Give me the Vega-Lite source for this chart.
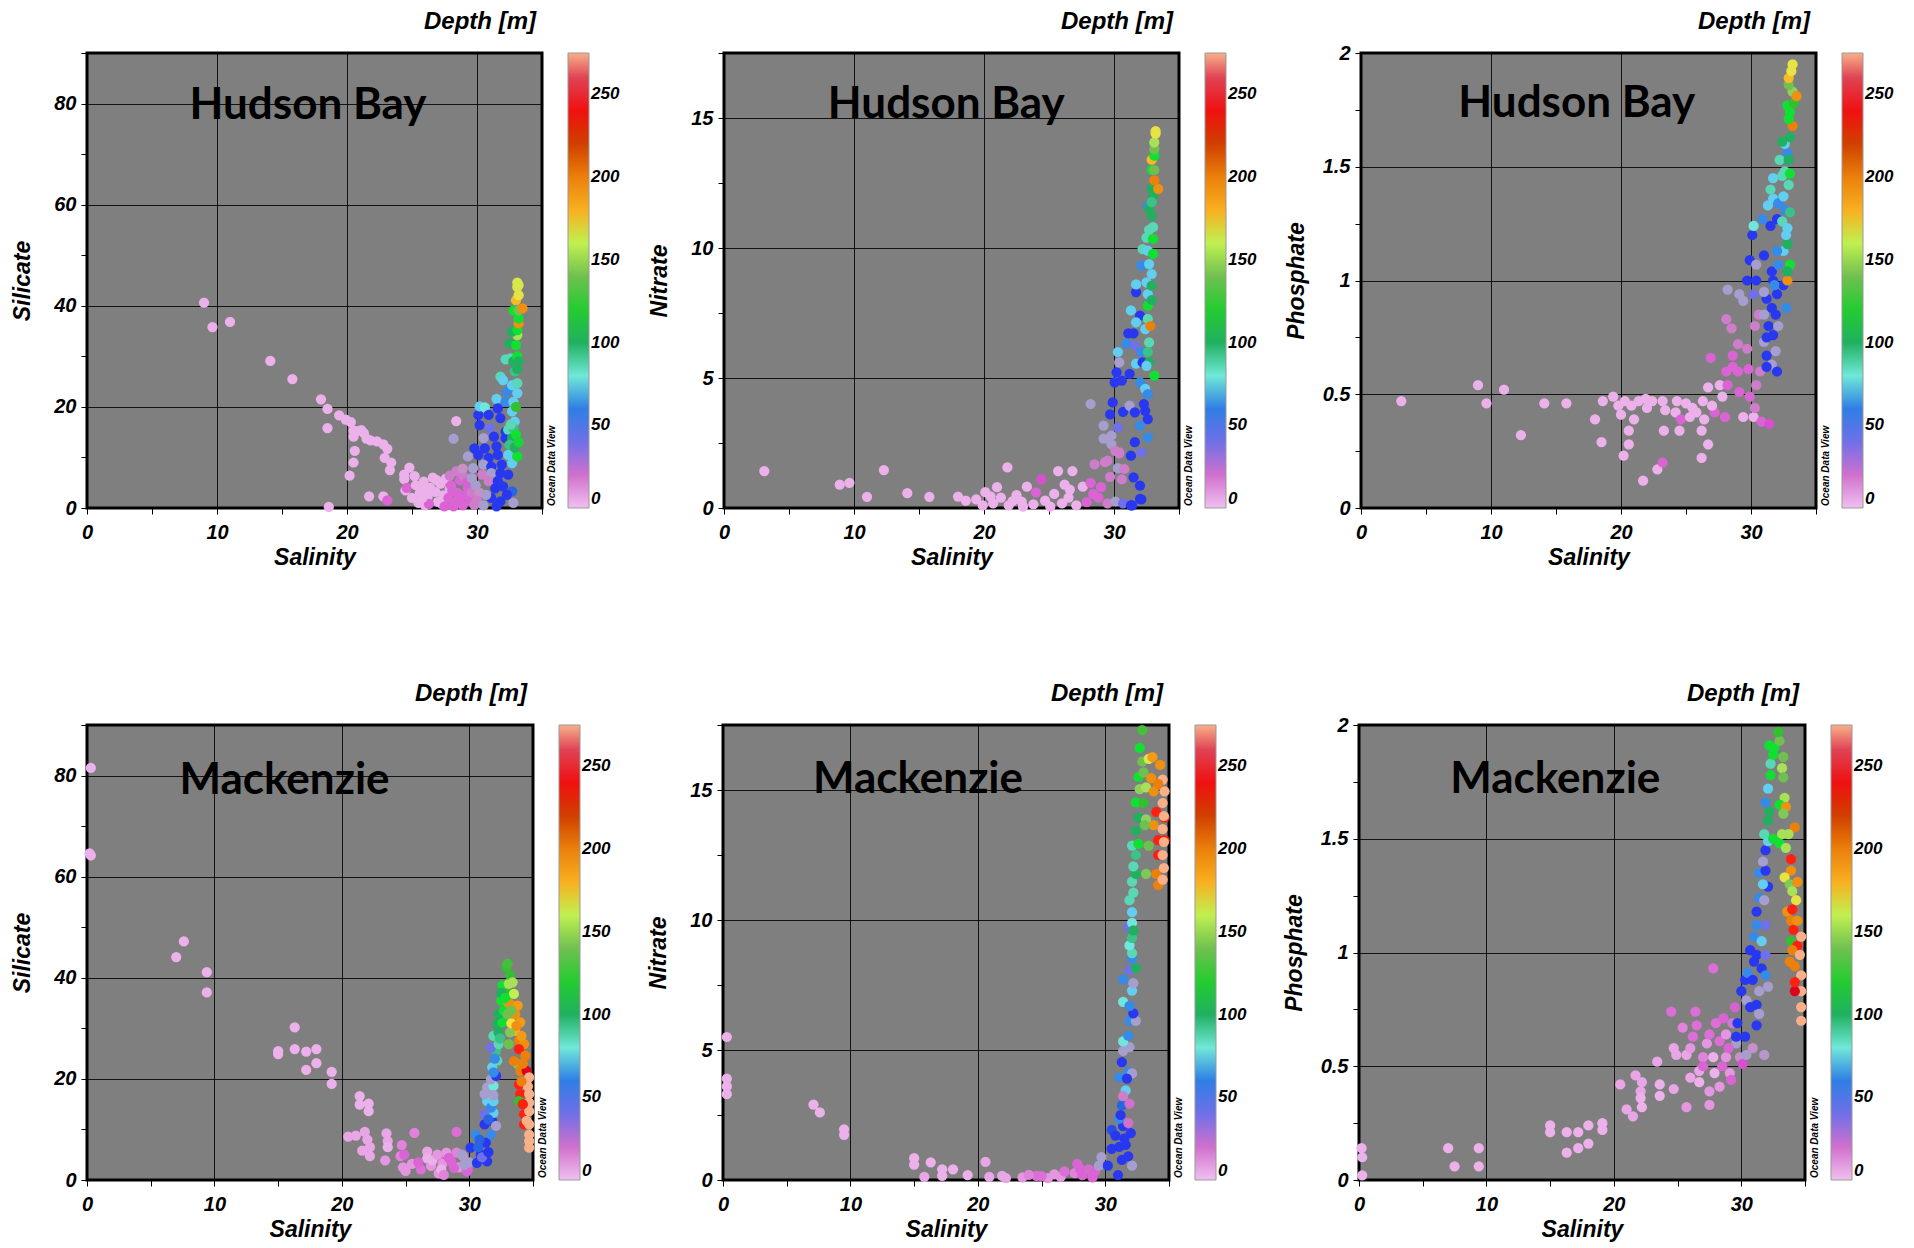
{
"$schema": "https://vega.github.io/schema/vega-lite/v6.json",
"background": "white",
"padding": {"left": 9, "top": 8, "right": 0, "bottom": 0},
"config": {
  "view": {"fill": "#7f7f7f", "stroke": "#000", "strokeWidth": 3},
  "axis": {"labelFont": "Liberation Sans", "labelFontSize": 20, "labelFontWeight": "bold", "labelFontStyle": "italic", "labelColor": "#000",
           "titleFont": "Liberation Sans", "titleFontSize": 23, "titleFontWeight": "bold", "titleFontStyle": "italic", "titleColor": "#000",
           "domain": false, "tickColor": "#000", "tickSize": 6, "gridColor": "#000", "gridWidth": 1, "labelFlush": false, "labelOverlap": false, "format": "~f"},
  "axisX": {"labelPadding": 8, "titlePadding": 4},
  "axisY": {"labelPadding": 5, "titlePadding": 14, "minExtent": 39, "maxExtent": 39},
  "legend": {"orient": "right", "offset": 26, "gradientLength": 455, "gradientThickness": 21, "labelFont": "Liberation Sans", "labelFontSize": 17, "labelFontWeight": "bold", "labelFontStyle": "italic", "labelColor": "#000", "labelOffset": 6, "gradientStrokeColor": "#999", "gradientStrokeWidth": 1, "labelOverlap": false},
  "title": {"font": "Liberation Sans", "fontSize": 24, "fontWeight": "bold", "fontStyle": "italic", "color": "#000", "anchor": "end", "frame": "group", "offset": 9, "baseline": "bottom", "dx": -6}
},
"datasets": {
"hs": [
{"s":9.0,"v":40.6,"d":3},{"s":9.65,"v":35.8,"d":3},{"s":11.0,"v":36.8,"d":3},{"s":14.1,"v":29.1,"d":3},{"s":15.8,"v":25.5,"d":3},{"s":18.0,"v":21.5,"d":3},{"s":18.5,"v":19.6,"d":3},{"s":18.5,"v":15.8,"d":3},{"s":19.4,"v":18.3,"d":3},{"s":19.9,"v":17.5,"d":3},{"s":20.3,"v":17,"d":3},{"s":20.5,"v":15.3,"d":3},{"s":20.75,"v":15.2,"d":3},{"s":21.1,"v":15.4,"d":3},{"s":20.5,"v":14.1,"d":3},{"s":21.3,"v":14.8,"d":3},{"s":21.5,"v":13.7,"d":3},{"s":21.8,"v":13.4,"d":3},{"s":22.3,"v":13.2,"d":3},{"s":22.8,"v":12.6,"d":3},{"s":23.1,"v":11.7,"d":3},{"s":22.9,"v":9.9,"d":3},{"s":23.4,"v":9.0,"d":3},{"s":23.3,"v":7.5,"d":3},{"s":20.6,"v":11.3,"d":3},{"s":20.5,"v":9.0,"d":3},{"s":20.2,"v":6.4,"d":3},{"s":21.7,"v":2.3,"d":3},{"s":22.8,"v":2.3,"d":3},{"s":23.1,"v":1.5,"d":13},{"s":18.6,"v":0.2,"d":3},{"s":24.4,"v":6.6,"d":3},{"s":24.8,"v":8.0,"d":3},{"s":24.4,"v":5.7,"d":3},{"s":24.5,"v":3.5,"d":3},{"s":25.0,"v":2.0,"d":3},{"s":24.6,"v":4.0,"d":13},
{"s":25.3,"v":4.5,"d":3},{"s":25.6,"v":3.0,"d":3},{"s":25.9,"v":5.2,"d":3},{"s":26.2,"v":2.2,"d":3},{"s":26.4,"v":4.0,"d":3},{"s":26.6,"v":6.0,"d":3},{"s":26.8,"v":3.2,"d":3},{"s":27.0,"v":1.2,"d":3},{"s":27.2,"v":4.8,"d":3},{"s":27.4,"v":2.5,"d":3},{"s":25.5,"v":1.0,"d":3},{"s":26.0,"v":0.5,"d":3},{"s":27.6,"v":5.8,"d":3},{"s":26.3,"v":0.8,"d":13},{"s":25.2,"v":6.3,"d":3},{"s":27.9,"v":3.8,"d":3},{"s":26.0,"v":3.8,"d":3},{"s":26.9,"v":5.5,"d":3},{"s":25.8,"v":2.0,"d":3},{"s":27.3,"v":0.8,"d":3},
{"s":27.8,"v":2.0,"d":13},{"s":28.0,"v":4.5,"d":13},{"s":28.3,"v":1.0,"d":13},{"s":28.5,"v":3.0,"d":13},{"s":28.7,"v":5.5,"d":13},{"s":28.9,"v":0.5,"d":13},{"s":29.1,"v":2.5,"d":13},{"s":29.3,"v":4.0,"d":13},{"s":29.5,"v":1.3,"d":13},{"s":27.9,"v":6.4,"d":22},{"s":28.4,"v":7.3,"d":22},{"s":29.0,"v":6.1,"d":22},{"s":29.6,"v":3.1,"d":22},{"s":28.2,"v":0.3,"d":13},{"s":29.8,"v":0.6,"d":22},{"s":27.5,"v":0.3,"d":13},{"s":28.1,"v":3.4,"d":13},{"s":28.6,"v":1.9,"d":13},{"s":29.2,"v":5.0,"d":18},{"s":28.9,"v":7.8,"d":25},{"s":29.9,"v":4.5,"d":31},{"s":30.2,"v":3.0,"d":25},
{"s":28.4,"v":17.2,"d":3},{"s":28.2,"v":13.7,"d":31},
{"s":30.1,"v":18.4,"d":48},{"s":30.2,"v":16.4,"d":48},{"s":31.0,"v":15.8,"d":40},{"s":30.5,"v":13.8,"d":31},{"s":31.3,"v":14.1,"d":48},{"s":32.2,"v":13.8,"d":48},{"s":29.8,"v":11.8,"d":48},{"s":30.6,"v":11.8,"d":48},{"s":31.5,"v":12.2,"d":48},{"s":29.3,"v":10.2,"d":31},{"s":30.1,"v":10.5,"d":48},{"s":30.9,"v":9.9,"d":48},{"s":31.6,"v":10.5,"d":48},{"s":32.4,"v":10.5,"d":70},{"s":29.7,"v":7.9,"d":31},{"s":30.5,"v":8.6,"d":31},{"s":31.1,"v":8.2,"d":48},{"s":31.9,"v":8.6,"d":48},{"s":32.7,"v":8.9,"d":70},{"s":30.4,"v":6.6,"d":22},{"s":31.1,"v":6.9,"d":31},{"s":31.8,"v":6.9,"d":48},{"s":32.4,"v":6.6,"d":48},{"s":29.6,"v":5.9,"d":31},{"s":30.9,"v":5.3,"d":22},{"s":31.4,"v":3.9,"d":48},{"s":32.0,"v":4.3,"d":48},{"s":32.7,"v":3.3,"d":56},{"s":31.1,"v":2.0,"d":48},{"s":31.8,"v":1.3,"d":48},{"s":32.3,"v":2.6,"d":48},{"s":30.7,"v":2.6,"d":31},{"s":32.8,"v":1.0,"d":31},{"s":31.6,"v":5.3,"d":48},{"s":30.0,"v":1.5,"d":22},{"s":30.5,"v":0.5,"d":31},{"s":31.5,"v":0.3,"d":48},
{"s":30.2,"v":20.1,"d":70},{"s":30.6,"v":19.9,"d":78},{"s":31.5,"v":21.6,"d":70},{"s":31.6,"v":19.7,"d":48},{"s":32.2,"v":21,"d":62},{"s":32.8,"v":21,"d":70},{"s":32.7,"v":19.1,"d":70},{"s":30.9,"v":18.4,"d":48},{"s":31.8,"v":17.8,"d":48},{"s":32.9,"v":17.1,"d":70},{"s":32.2,"v":15.1,"d":48},{"s":32.4,"v":15.5,"d":85},{"s":32.8,"v":15.8,"d":92},{"s":32.7,"v":13.8,"d":100},{"s":33.1,"v":10.2,"d":112},{"s":32.5,"v":12.5,"d":92},{"s":31.8,"v":26,"d":85},{"s":32.0,"v":25.3,"d":70},{"s":32.3,"v":23,"d":62},{"s":32.7,"v":24.3,"d":70},{"s":33.1,"v":24.7,"d":85},{"s":32.9,"v":27,"d":92},{"s":33.1,"v":22.7,"d":70},{"s":32.2,"v":29.4,"d":85},{"s":32.6,"v":29.6,"d":85},{"s":32.8,"v":29,"d":100},{"s":33.1,"v":30,"d":112},{"s":33.2,"v":29,"d":100},{"s":32.5,"v":32.6,"d":100},{"s":33.0,"v":32.2,"d":112},{"s":33.1,"v":34.2,"d":155},{"s":32.7,"v":34.9,"d":100},{"s":33.1,"v":35.2,"d":112},{"s":33.2,"v":36.5,"d":195},{"s":33.2,"v":37.5,"d":112},{"s":32.8,"v":39.1,"d":112},{"s":33.2,"v":39.1,"d":140},{"s":33.5,"v":39.5,"d":195},{"s":33.0,"v":41.1,"d":178},{"s":33.2,"v":42.1,"d":168},{"s":33.2,"v":44.1,"d":165},{"s":33.1,"v":44.6,"d":165},{"s":33.1,"v":43.7,"d":165},{"s":33.1,"v":27.5,"d":100},{"s":33.0,"v":20.0,"d":125},{"s":32.9,"v":12.0,"d":100},{"s":33.0,"v":14.5,"d":112},{"s":32.6,"v":16.5,"d":85},{"s":33.2,"v":13.0,"d":110}
],
"hn": [
{"s":3.1,"v":1.42,"d":3},{"s":8.9,"v":0.9,"d":3},{"s":9.65,"v":0.97,"d":3},{"s":11.0,"v":0.43,"d":3},{"s":12.3,"v":1.46,"d":3},{"s":14.1,"v":0.57,"d":3},{"s":15.8,"v":0.43,"d":3},{"s":18.0,"v":0.44,"d":3},{"s":18.6,"v":0.28,"d":3},{"s":19.4,"v":0.33,"d":3},{"s":20.1,"v":0.61,"d":3},{"s":21.0,"v":0.8,"d":3},{"s":21.8,"v":1.56,"d":3},{"s":21.3,"v":0.4,"d":3},{"s":22.2,"v":0.26,"d":3},{"s":23.3,"v":0.82,"d":3},{"s":24.4,"v":1.1,"d":15},{"s":25.7,"v":1.42,"d":3},{"s":26.8,"v":1.42,"d":3},{"s":26.6,"v":0.71,"d":3},{"s":27.6,"v":0.82,"d":3},{"s":28.2,"v":4.0,"d":31},{"s":28.5,"v":1.68,"d":22},{"s":28.2,"v":0.97,"d":13},{"s":28.4,"v":0.54,"d":13},{"s":19.9,"v":0.1,"d":3},{"s":20.7,"v":0.18,"d":3},{"s":21.9,"v":0.1,"d":3},{"s":22.9,"v":0.25,"d":3},{"s":23.8,"v":0.14,"d":3},{"s":24.7,"v":0.28,"d":3},{"s":25.4,"v":0.54,"d":3},{"s":26.0,"v":0.18,"d":3},{"s":26.5,"v":0.4,"d":3},{"s":27.1,"v":0.1,"d":3},{"s":27.9,"v":0.23,"d":13},{"s":28.8,"v":0.4,"d":13},{"s":29.5,"v":0.18,"d":22},{"s":30.1,"v":0.25,"d":31},{"s":30.7,"v":0.18,"d":40},{"s":31.4,"v":0.1,"d":48},{"s":32.1,"v":0.33,"d":48},{"s":20.5,"v":0.45,"d":3},{"s":22.5,"v":0.5,"d":3},{"s":24.0,"v":0.6,"d":13},{"s":25.1,"v":0.05,"d":3},{"s":26.2,"v":0.9,"d":3},{"s":23.0,"v":0.05,"d":3},{"s":29.2,"v":3.17,"d":31},{"s":29.2,"v":2.67,"d":31},{"s":29.8,"v":2.46,"d":31},{"s":29.5,"v":1.82,"d":22},{"s":30.4,"v":2.1,"d":22},{"s":30.3,"v":1.53,"d":31},{"s":30.6,"v":1.1,"d":22},{"s":29.0,"v":0.8,"d":13},{"s":29.7,"v":1.2,"d":22},
{"s":29.9,"v":4.06,"d":48},{"s":29.7,"v":3.6,"d":48},{"s":30.3,"v":3.1,"d":40},{"s":30.7,"v":3.7,"d":48},{"s":31.2,"v":3.94,"d":31},{"s":31.6,"v":3.68,"d":48},{"s":32.0,"v":3.17,"d":62},{"s":32.4,"v":3.74,"d":48},{"s":32.6,"v":3.42,"d":48},{"s":32.6,"v":2.72,"d":62},{"s":31.6,"v":2.53,"d":48},{"s":31.3,"v":2.01,"d":48},{"s":32.1,"v":2.14,"d":40},{"s":31.5,"v":1.18,"d":48},{"s":32.0,"v":0.86,"d":48},{"s":32.0,"v":0.35,"d":48},{"s":31.3,"v":0.1,"d":48},{"s":30.8,"v":1.5,"d":22},{"s":30.4,"v":2.14,"d":22},{"s":29.3,"v":1.76,"d":22},{"s":30.1,"v":2.2,"d":22},{"s":29.8,"v":2.78,"d":31},
{"s":30.2,"v":5.22,"d":48},{"s":30.05,"v":4.83,"d":48},{"s":30.6,"v":4.9,"d":48},{"s":31.2,"v":5.16,"d":48},{"s":30.4,"v":5.6,"d":31},{"s":30.3,"v":6.0,"d":70},{"s":31.1,"v":6.72,"d":48},{"s":31.5,"v":6.72,"d":48},{"s":30.95,"v":6.32,"d":62},{"s":31.6,"v":6.25,"d":40},{"s":32.1,"v":6.0,"d":62},{"s":31.7,"v":5.55,"d":70},{"s":32.2,"v":5.6,"d":48},{"s":32.0,"v":4.83,"d":62},{"s":32.4,"v":4.58,"d":70},{"s":32.6,"v":4.38,"d":62},{"s":32.0,"v":7.4,"d":48},{"s":31.3,"v":7.6,"d":70},{"s":31.7,"v":7.14,"d":70},{"s":32.4,"v":6.88,"d":70},{"s":32.6,"v":7.27,"d":85},{"s":32.7,"v":6.37,"d":85},{"s":32.6,"v":6.0,"d":92},{"s":32.7,"v":5.6,"d":100},{"s":33.1,"v":5.09,"d":112},{"s":32.5,"v":5.47,"d":70},{"s":32.6,"v":7.78,"d":112},{"s":31.7,"v":8.3,"d":48},{"s":31.7,"v":8.6,"d":70},{"s":32.6,"v":8.23,"d":70},{"s":32.5,"v":8.68,"d":70},{"s":32.9,"v":8.55,"d":100},{"s":32.9,"v":9.0,"d":70},{"s":32.1,"v":9.32,"d":62},{"s":32.7,"v":9.38,"d":70},{"s":32.2,"v":9.96,"d":85},{"s":32.6,"v":9.9,"d":70},{"s":33.0,"v":9.77,"d":112},{"s":32.5,"v":10.4,"d":85},{"s":32.7,"v":10.7,"d":85},{"s":33.0,"v":10.35,"d":112},{"s":32.6,"v":11.6,"d":62},{"s":32.9,"v":11.24,"d":100},{"s":33.0,"v":12.0,"d":100},{"s":32.9,"v":12.3,"d":100},{"s":33.4,"v":12.27,"d":195},{"s":33.1,"v":12.6,"d":200},{"s":32.9,"v":13.0,"d":112},{"s":33.1,"v":13.0,"d":140},{"s":32.9,"v":13.4,"d":178},{"s":33.1,"v":13.55,"d":112},{"s":33.1,"v":13.8,"d":140},{"s":33.1,"v":14.06,"d":155},{"s":33.2,"v":14.5,"d":168},{"s":33.2,"v":14.4,"d":168},{"s":32.7,"v":11.5,"d":100},{"s":33.0,"v":10.8,"d":85},{"s":32.9,"v":11.76,"d":92},{"s":32.8,"v":7.0,"d":200},{"s":32.9,"v":8.0,"d":100},{"s":32.3,"v":4.0,"d":48}
],
"hp": [
{"s":3.1,"v":0.47,"d":3},{"s":9.0,"v":0.54,"d":3},{"s":9.65,"v":0.46,"d":3},{"s":11.0,"v":0.52,"d":3},{"s":12.3,"v":0.32,"d":3},{"s":14.1,"v":0.46,"d":3},{"s":15.8,"v":0.46,"d":3},{"s":18.0,"v":0.39,"d":3},{"s":18.5,"v":0.29,"d":3},{"s":18.6,"v":0.47,"d":3},{"s":19.4,"v":0.49,"d":3},{"s":19.8,"v":0.45,"d":3},{"s":20.3,"v":0.47,"d":3},{"s":20.8,"v":0.45,"d":3},{"s":21.35,"v":0.47,"d":3},{"s":21.9,"v":0.48,"d":3},{"s":22.4,"v":0.47,"d":3},{"s":23.2,"v":0.47,"d":3},{"s":21.0,"v":0.39,"d":3},{"s":20.6,"v":0.34,"d":3},{"s":20.6,"v":0.28,"d":3},{"s":20.2,"v":0.23,"d":3},{"s":21.7,"v":0.12,"d":3},{"s":22.8,"v":0.17,"d":3},{"s":23.2,"v":0.2,"d":13},{"s":23.3,"v":0.34,"d":3},{"s":23.4,"v":0.43,"d":3},{"s":24.3,"v":0.47,"d":3},{"s":24.2,"v":0.42,"d":3},{"s":24.5,"v":0.34,"d":3},{"s":24.6,"v":0.39,"d":13},{"s":25.0,"v":0.46,"d":3},{"s":25.5,"v":0.44,"d":3},{"s":25.8,"v":0.42,"d":3},{"s":26.3,"v":0.47,"d":3},{"s":26.4,"v":0.39,"d":3},{"s":26.2,"v":0.34,"d":3},{"s":26.2,"v":0.22,"d":3},{"s":26.7,"v":0.28,"d":3},{"s":26.7,"v":0.53,"d":3},{"s":26.9,"v":0.66,"d":13},{"s":27.2,"v":0.42,"d":13},{"s":27.6,"v":0.54,"d":3},{"s":28.1,"v":0.6,"d":13},{"s":27.8,"v":0.49,"d":3},{"s":28.2,"v":0.54,"d":13},{"s":28.6,"v":0.62,"d":13},{"s":28.6,"v":0.67,"d":13},{"s":29.0,"v":0.72,"d":22},{"s":29.1,"v":0.51,"d":13},{"s":29.4,"v":0.4,"d":3},{"s":29.7,"v":0.7,"d":22},{"s":29.8,"v":0.61,"d":13},{"s":29.9,"v":0.49,"d":13},{"s":30.2,"v":0.4,"d":3},{"s":30.4,"v":0.54,"d":22},{"s":30.8,"v":0.38,"d":13},{"s":31.4,"v":0.37,"d":15},{"s":30.3,"v":0.44,"d":22},{"s":30.7,"v":0.6,"d":22},{"s":30.3,"v":0.8,"d":22},{"s":30.6,"v":0.85,"d":22},{"s":28.1,"v":0.83,"d":22},{"s":28.5,"v":0.79,"d":22},{"s":28.2,"v":0.96,"d":31},{"s":29.1,"v":0.94,"d":31},{"s":29.4,"v":0.91,"d":31},{"s":30.2,"v":0.94,"d":40},{"s":25.3,"v":0.4,"d":3},{"s":27.0,"v":0.45,"d":3},{"s":28.0,"v":0.4,"d":13},{"s":29.0,"v":0.6,"d":13},{"s":22.0,"v":0.44,"d":3},{"s":20.0,"v":0.41,"d":3},
{"s":31.2,"v":0.67,"d":48},{"s":31.6,"v":0.63,"d":31},{"s":32.0,"v":0.6,"d":48},{"s":31.2,"v":0.62,"d":48},{"s":31.0,"v":0.73,"d":31},{"s":31.9,"v":0.69,"d":31},{"s":31.2,"v":0.75,"d":48},{"s":31.7,"v":0.76,"d":48},{"s":31.35,"v":0.8,"d":48},{"s":32.1,"v":0.8,"d":31},{"s":31.0,"v":0.85,"d":31},{"s":31.9,"v":0.85,"d":48},{"s":31.6,"v":0.88,"d":48},{"s":32.7,"v":0.88,"d":62},{"s":31.2,"v":0.92,"d":48},{"s":31.0,"v":0.95,"d":31},{"s":32.0,"v":0.94,"d":48},{"s":32.5,"v":0.98,"d":48},{"s":29.7,"v":1.0,"d":48},{"s":30.4,"v":1.0,"d":48},{"s":31.7,"v":1.0,"d":48},{"s":32.8,"v":1.0,"d":195},{"s":31.8,"v":0.98,"d":62},{"s":29.9,"v":1.09,"d":48},{"s":30.4,"v":1.07,"d":31},{"s":31.0,"v":1.11,"d":48},{"s":31.6,"v":1.04,"d":48},{"s":32.1,"v":1.07,"d":62},{"s":32.5,"v":1.13,"d":70},{"s":32.8,"v":1.16,"d":100},{"s":33.0,"v":1.07,"d":112},{"s":32.8,"v":1.04,"d":100},{"s":32.0,"v":1.13,"d":62},{"s":30.1,"v":1.2,"d":48},{"s":30.2,"v":1.24,"d":78},{"s":30.9,"v":1.27,"d":62},{"s":31.5,"v":1.24,"d":48},{"s":32.0,"v":1.27,"d":48},{"s":32.4,"v":1.26,"d":85},{"s":32.8,"v":1.23,"d":70},{"s":32.6,"v":1.31,"d":62},{"s":31.3,"v":1.33,"d":70},{"s":31.7,"v":1.36,"d":70},{"s":32.1,"v":1.34,"d":62},{"s":31.5,"v":1.4,"d":85},{"s":32.5,"v":1.37,"d":70},{"s":32.9,"v":1.42,"d":85},{"s":31.7,"v":1.45,"d":70},{"s":32.4,"v":1.46,"d":85},{"s":32.6,"v":1.48,"d":85},{"s":33.0,"v":1.47,"d":112},{"s":32.2,"v":1.53,"d":85},{"s":32.8,"v":1.56,"d":62},{"s":32.9,"v":1.53,"d":100},{"s":32.6,"v":1.6,"d":70},{"s":32.4,"v":1.61,"d":100},{"s":33.0,"v":1.63,"d":100},{"s":33.2,"v":1.68,"d":200},{"s":32.9,"v":1.71,"d":112},{"s":33.0,"v":1.74,"d":112},{"s":32.8,"v":1.77,"d":112},{"s":33.3,"v":1.78,"d":125},{"s":33.2,"v":1.83,"d":150},{"s":33.5,"v":1.81,"d":195},{"s":32.9,"v":1.86,"d":140},{"s":32.9,"v":1.89,"d":178},{"s":33.1,"v":1.92,"d":168},{"s":33.2,"v":1.95,"d":168},{"s":33.0,"v":1.3,"d":92},{"s":32.7,"v":1.2,"d":70}
],
"ms": [
{"s":0.3,"v":81.5,"d":3},{"s":0.3,"v":64.2,"d":3},{"s":0.2,"v":64.6,"d":3},{"s":7.0,"v":44.1,"d":3},{"s":7.6,"v":47.2,"d":3},{"s":9.4,"v":41.1,"d":3},{"s":9.4,"v":37.1,"d":3},{"s":15.0,"v":24.9,"d":3},{"s":15.0,"v":25.5,"d":3},{"s":16.3,"v":30.2,"d":3},{"s":16.3,"v":25.9,"d":3},{"s":17.2,"v":25.4,"d":3},{"s":17.2,"v":21.8,"d":3},{"s":18.0,"v":25.9,"d":3},{"s":18.0,"v":23.1,"d":3},{"s":19.2,"v":21.4,"d":3},{"s":19.2,"v":19.0,"d":3},{"s":21.4,"v":16.6,"d":3},{"s":21.4,"v":14.9,"d":3},{"s":22.1,"v":15.1,"d":3},{"s":22.1,"v":13.6,"d":3},{"s":20.5,"v":8.6,"d":5},{"s":21.1,"v":8.8,"d":5},{"s":21.8,"v":9.5,"d":5},{"s":22.0,"v":8.0,"d":5},{"s":22.2,"v":6.5,"d":5},{"s":21.6,"v":5.8,"d":5},{"s":22.2,"v":4.7,"d":5},{"s":23.5,"v":9.2,"d":5},{"s":23.6,"v":7.7,"d":5},{"s":23.6,"v":6.5,"d":3},{"s":23.4,"v":3.9,"d":8},{"s":24.7,"v":6.9,"d":10},{"s":24.6,"v":4.7,"d":10},{"s":24.8,"v":2.5,"d":8},{"s":25.7,"v":9.3,"d":10},{"s":25.5,"v":3.2,"d":8},{"s":26.7,"v":5.6,"d":5},{"s":26.7,"v":4.3,"d":3},{"s":26.2,"v":2.1,"d":12},{"s":27.0,"v":2.8,"d":8},{"s":27.6,"v":4.7,"d":12},{"s":27.6,"v":1.3,"d":8},{"s":27.9,"v":3.2,"d":8},{"s":28.2,"v":5.4,"d":8},{"s":28.6,"v":3.6,"d":13},{"s":29.0,"v":9.5,"d":12},{"s":29.0,"v":5.4,"d":10},{"s":29.2,"v":2.5,"d":8},{"s":29.5,"v":4.7,"d":25},{"s":29.8,"v":1.7,"d":13},{"s":27.8,"v":2.1,"d":3},{"s":27.1,"v":3.9,"d":3},{"s":24.9,"v":5.0,"d":13},{"s":27.5,"v":5.0,"d":8},{"s":28.4,"v":4.4,"d":13},{"s":29.4,"v":5.0,"d":31},{"s":28.8,"v":2.4,"d":13},{"s":29.9,"v":2.1,"d":13},{"s":25.0,"v":1.8,"d":8},{"s":26.0,"v":3.5,"d":13},{"s":28.0,"v":1.0,"d":10},{"s":30.0,"v":3.5,"d":31},
{"s":30.1,"v":6.4,"d":48},{"s":30.5,"v":9.0,"d":62},{"s":30.9,"v":5.0,"d":48},{"s":31.3,"v":7.4,"d":48},{"s":30.6,"v":3.4,"d":48},{"s":31.4,"v":3.7,"d":48},{"s":29.6,"v":3.0,"d":31},{"s":31.2,"v":11.0,"d":48},{"s":31.7,"v":9.0,"d":62},{"s":31.8,"v":11.7,"d":48},{"s":31.9,"v":13.3,"d":70},{"s":32.1,"v":10.7,"d":31},{"s":31.2,"v":13.0,"d":40},{"s":31.4,"v":15.6,"d":70},{"s":31.7,"v":14.3,"d":62},{"s":31.9,"v":15.6,"d":70},{"s":31.2,"v":17.0,"d":31},{"s":31.4,"v":18.3,"d":31},{"s":31.9,"v":18.6,"d":78},{"s":31.7,"v":19.9,"d":31},{"s":32.1,"v":20.6,"d":48},{"s":31.8,"v":22.3,"d":70},{"s":32.2,"v":23.6,"d":85},{"s":32.1,"v":25.6,"d":92},{"s":31.7,"v":26.2,"d":40},{"s":32.3,"v":26.9,"d":85},{"s":31.9,"v":28.5,"d":85},{"s":32.3,"v":29.2,"d":100},{"s":32.2,"v":30.9,"d":100},{"s":32.6,"v":31.2,"d":112},{"s":32.3,"v":32.8,"d":100},{"s":32.7,"v":33.5,"d":112},{"s":33.0,"v":32.8,"d":140},{"s":32.5,"v":35.5,"d":112},{"s":33.0,"v":35.2,"d":140},{"s":33.1,"v":36.8,"d":125},{"s":32.6,"v":38.5,"d":112},{"s":33.1,"v":38.8,"d":155},{"s":33.2,"v":40.5,"d":125},{"s":32.9,"v":42.1,"d":125},{"s":33.0,"v":42.8,"d":130},{"s":33.4,"v":39.1,"d":155},{"s":33.5,"v":36.8,"d":160},{"s":33.2,"v":34.8,"d":195},{"s":33.8,"v":34.5,"d":190},{"s":33.6,"v":32.8,"d":195},{"s":34.0,"v":31.2,"d":190},{"s":33.6,"v":29.5,"d":180},{"s":33.2,"v":29.2,"d":145},{"s":33.1,"v":26.9,"d":140},{"s":33.9,"v":27.5,"d":200},{"s":34.3,"v":26.9,"d":195},{"s":33.9,"v":25.9,"d":230},{"s":34.4,"v":24.6,"d":200},{"s":33.8,"v":22.9,"d":145},{"s":34.0,"v":21.6,"d":200},{"s":34.5,"v":21.6,"d":248},{"s":33.9,"v":18.9,"d":230},{"s":34.0,"v":17.0,"d":230},{"s":33.9,"v":15.6,"d":125},{"s":34.3,"v":13.0,"d":230},{"s":34.3,"v":11.0,"d":230},{"s":34.5,"v":11.7,"d":275},{"s":34.7,"v":17.0,"d":275},{"s":34.7,"v":20.3,"d":275},{"s":34.7,"v":13.6,"d":275},{"s":34.7,"v":9.0,"d":275},{"s":34.7,"v":6.4,"d":275},{"s":34.7,"v":15.3,"d":275},{"s":34.7,"v":11.0,"d":275},{"s":34.6,"v":18.5,"d":275},{"s":34.7,"v":7.7,"d":275},{"s":33.5,"v":23.5,"d":200},{"s":32.0,"v":24.0,"d":62},{"s":31.5,"v":12.0,"d":56},{"s":30.8,"v":8.0,"d":56},{"s":31.0,"v":4.5,"d":40},{"s":31.9,"v":16.8,"d":31},{"s":32.5,"v":37.0,"d":100},{"s":33.3,"v":31.0,"d":170},{"s":32.4,"v":28.0,"d":92},{"s":32.8,"v":36.0,"d":112},{"s":33.3,"v":33.5,"d":140},{"s":33.7,"v":30.5,"d":195},{"s":34.1,"v":28.5,"d":190},{"s":34.2,"v":23.0,"d":200},{"s":34.1,"v":19.5,"d":200},{"s":34.2,"v":15.0,"d":230},{"s":30.7,"v":6.5,"d":56},{"s":31.5,"v":5.5,"d":48},{"s":31.9,"v":21.3,"d":62}
],
"mn": [
{"s":0.3,"v":5.5,"d":3},{"s":0.3,"v":3.9,"d":3},{"s":0.3,"v":3.6,"d":3},{"s":0.3,"v":3.3,"d":3},{"s":7.1,"v":2.9,"d":3},{"s":7.6,"v":2.6,"d":3},{"s":9.5,"v":1.95,"d":3},{"s":9.5,"v":1.74,"d":3},{"s":15.0,"v":0.84,"d":3},{"s":15.0,"v":0.59,"d":3},{"s":16.3,"v":0.68,"d":3},{"s":15.8,"v":0.12,"d":5},{"s":17.2,"v":0.41,"d":3},{"s":17.2,"v":0.16,"d":3},{"s":18.05,"v":0.41,"d":3},{"s":19.2,"v":0.19,"d":3},{"s":20.6,"v":0.7,"d":5},{"s":20.9,"v":0.12,"d":5},{"s":21.9,"v":0.16,"d":5},{"s":22.2,"v":0.07,"d":5},{"s":23.5,"v":0.1,"d":8},{"s":24.6,"v":0.16,"d":12},{"s":25.5,"v":0.07,"d":8},{"s":26.5,"v":0.12,"d":8},{"s":26.8,"v":0.33,"d":12},{"s":27.6,"v":0.26,"d":10},{"s":27.8,"v":0.62,"d":13},{"s":28.2,"v":0.19,"d":13},{"s":28.7,"v":0.41,"d":20},{"s":29.2,"v":0.33,"d":13},{"s":29.7,"v":0.88,"d":31},{"s":29.5,"v":0.55,"d":31},{"s":24.0,"v":0.2,"d":10},{"s":25.0,"v":0.15,"d":12},{"s":26.0,"v":0.22,"d":8},{"s":28.0,"v":0.45,"d":13},{"s":29.0,"v":0.1,"d":13},
{"s":30.2,"v":0.55,"d":48},{"s":30.5,"v":1.2,"d":48},{"s":30.5,"v":1.93,"d":52},{"s":30.8,"v":1.71,"d":48},{"s":31.1,"v":1.27,"d":48},{"s":31.3,"v":0.77,"d":48},{"s":31.0,"v":0.19,"d":48},{"s":31.6,"v":1.35,"d":48},{"s":31.4,"v":2.07,"d":48},{"s":31.8,"v":0.91,"d":48},{"s":32.1,"v":0.55,"d":31},{"s":31.8,"v":2.2,"d":20},{"s":31.3,"v":2.87,"d":56},{"s":31.9,"v":2.94,"d":20},{"s":31.1,"v":2.36,"d":62},{"s":31.6,"v":3.45,"d":70},{"s":31.4,"v":3.23,"d":22},{"s":31.1,"v":3.95,"d":62},{"s":31.8,"v":4.17,"d":62},{"s":32.1,"v":4.1,"d":31},{"s":31.3,"v":4.53,"d":48},{"s":31.4,"v":4.97,"d":31},{"s":31.9,"v":5.11,"d":31},{"s":31.4,"v":5.33,"d":78},{"s":31.8,"v":5.55,"d":62},{"s":31.9,"v":6.12,"d":62},{"s":32.4,"v":6.12,"d":31},{"s":32.2,"v":6.41,"d":48},{"s":31.4,"v":6.85,"d":78},{"s":31.9,"v":6.7,"d":62},{"s":32.1,"v":7.28,"d":70},{"s":32.2,"v":7.57,"d":31},{"s":31.4,"v":7.72,"d":62},{"s":31.9,"v":8.08,"d":40},{"s":32.1,"v":8.51,"d":62},{"s":32.4,"v":8.15,"d":100},{"s":32.1,"v":8.73,"d":85},{"s":31.9,"v":9.02,"d":78},{"s":32.1,"v":9.31,"d":92},{"s":31.8,"v":9.74,"d":40},{"s":32.1,"v":9.89,"d":78},{"s":32.2,"v":9.6,"d":100},{"s":32.1,"v":10.3,"d":70},{"s":31.9,"v":10.76,"d":85},{"s":32.2,"v":11.05,"d":85},{"s":32.1,"v":11.48,"d":85},{"s":32.4,"v":11.77,"d":100},{"s":32.2,"v":12.06,"d":85},{"s":32.4,"v":12.5,"d":92},{"s":32.1,"v":12.86,"d":85},{"s":32.6,"v":12.93,"d":112},{"s":33.4,"v":12.86,"d":140},{"s":32.4,"v":13.44,"d":100},{"s":32.6,"v":13.94,"d":100},{"s":33.2,"v":13.87,"d":150},{"s":32.4,"v":14.52,"d":112},{"s":32.7,"v":15.03,"d":150},{"s":32.6,"v":15.5,"d":112},{"s":33.2,"v":15.1,"d":155},{"s":33.0,"v":15.68,"d":140},{"s":33.6,"v":15.46,"d":195},{"s":32.9,"v":16.1,"d":140},{"s":33.4,"v":16.2,"d":165},{"s":33.7,"v":16.26,"d":190},{"s":32.7,"v":16.62,"d":112},{"s":32.9,"v":17.3,"d":130},{"s":33.8,"v":14.95,"d":195},{"s":34.0,"v":14.16,"d":230},{"s":33.8,"v":13.65,"d":195},{"s":34.15,"v":13.07,"d":230},{"s":34.15,"v":12.5,"d":232},{"s":34.0,"v":11.77,"d":200},{"s":34.15,"v":11.34,"d":200},{"s":33.2,"v":11.77,"d":145},{"s":33.1,"v":13.65,"d":140},{"s":34.5,"v":15.4,"d":275},{"s":34.5,"v":14.5,"d":275},{"s":34.5,"v":13.5,"d":275},{"s":34.5,"v":12.5,"d":275},{"s":34.5,"v":11.55,"d":275},{"s":34.65,"v":14.95,"d":275},{"s":34.65,"v":13.94,"d":225},{"s":34.65,"v":13.07,"d":230},{"s":34.15,"v":15.24,"d":200},{"s":34.3,"v":15.97,"d":195},{"s":34.6,"v":12.0,"d":275},{"s":34.6,"v":13.0,"d":275},{"s":34.6,"v":14.0,"d":275},{"s":33.0,"v":14.5,"d":125},{"s":31.5,"v":1.6,"d":48},{"s":31.2,"v":2.5,"d":48},{"s":32.0,"v":1.8,"d":48},{"s":31.7,"v":3.9,"d":48}
],
"mp": [
{"s":0.2,"v":0.14,"d":3},{"s":0.25,"v":0.1,"d":3},{"s":0.25,"v":0.02,"d":3},{"s":7.0,"v":0.14,"d":3},{"s":7.5,"v":0.06,"d":3},{"s":9.4,"v":0.14,"d":3},{"s":9.4,"v":0.06,"d":3},{"s":15.0,"v":0.24,"d":3},{"s":15.0,"v":0.21,"d":3},{"s":16.3,"v":0.21,"d":3},{"s":16.3,"v":0.12,"d":3},{"s":17.2,"v":0.21,"d":3},{"s":17.2,"v":0.14,"d":3},{"s":18.0,"v":0.24,"d":3},{"s":18.0,"v":0.16,"d":3},{"s":19.1,"v":0.25,"d":3},{"s":19.1,"v":0.22,"d":3},{"s":20.5,"v":0.42,"d":5},{"s":21.0,"v":0.31,"d":5},{"s":21.5,"v":0.28,"d":5},{"s":21.7,"v":0.46,"d":5},{"s":22.1,"v":0.39,"d":5},{"s":22.2,"v":0.43,"d":5},{"s":22.2,"v":0.32,"d":3},{"s":22.1,"v":0.36,"d":3},{"s":23.4,"v":0.52,"d":5},{"s":23.6,"v":0.42,"d":3},{"s":23.6,"v":0.37,"d":3},{"s":24.7,"v":0.4,"d":5},{"s":25.7,"v":0.32,"d":8},{"s":24.5,"v":0.74,"d":12},{"s":26.4,"v":0.74,"d":12},{"s":27.8,"v":0.93,"d":12},{"s":24.7,"v":0.58,"d":5},{"s":25.4,"v":0.67,"d":10},{"s":24.9,"v":0.55,"d":5},{"s":25.7,"v":0.55,"d":5},{"s":26.0,"v":0.58,"d":8},{"s":26.2,"v":0.63,"d":12},{"s":26.5,"v":0.68,"d":12},{"s":26.7,"v":0.48,"d":5},{"s":26.7,"v":0.43,"d":3},{"s":27.0,"v":0.54,"d":10},{"s":27.3,"v":0.6,"d":8},{"s":27.5,"v":0.64,"d":12},{"s":27.5,"v":0.39,"d":8},{"s":27.5,"v":0.33,"d":8},{"s":27.8,"v":0.54,"d":3},{"s":27.9,"v":0.47,"d":3},{"s":28.0,"v":0.69,"d":12},{"s":28.3,"v":0.41,"d":8},{"s":28.3,"v":0.61,"d":12},{"s":28.6,"v":0.71,"d":13},{"s":28.8,"v":0.54,"d":8},{"s":29.1,"v":0.47,"d":8},{"s":29.2,"v":0.44,"d":13},{"s":28.8,"v":0.64,"d":8},{"s":29.3,"v":0.69,"d":22},{"s":29.6,"v":0.6,"d":31},{"s":29.9,"v":0.54,"d":25},{"s":30.1,"v":0.51,"d":15},{"s":29.5,"v":0.76,"d":18},{"s":27.0,"v":0.5,"d":13},{"s":28.5,"v":0.5,"d":13},{"s":26.0,"v":0.45,"d":5},{"s":29.0,"v":0.58,"d":13},
{"s":29.7,"v":0.69,"d":48},{"s":29.6,"v":0.63,"d":48},{"s":30.3,"v":0.63,"d":48},{"s":30.4,"v":0.55,"d":31},{"s":30.9,"v":0.58,"d":25},{"s":31.8,"v":0.55,"d":28},{"s":30.0,"v":0.83,"d":48},{"s":30.4,"v":0.79,"d":31},{"s":30.7,"v":0.76,"d":48},{"s":31.2,"v":0.77,"d":48},{"s":31.2,"v":0.68,"d":48},{"s":31.4,"v":0.73,"d":31},{"s":30.3,"v":0.88,"d":48},{"s":30.5,"v":0.91,"d":62},{"s":30.9,"v":0.88,"d":48},{"s":31.4,"v":0.83,"d":31},{"s":32.1,"v":0.85,"d":31},{"s":31.0,"v":0.96,"d":48},{"s":31.6,"v":0.93,"d":48},{"s":31.9,"v":0.9,"d":62},{"s":30.7,"v":1.01,"d":48},{"s":31.2,"v":0.99,"d":48},{"s":31.9,"v":0.99,"d":40},{"s":31.0,"v":1.07,"d":62},{"s":31.6,"v":1.05,"d":70},{"s":31.2,"v":1.12,"d":62},{"s":31.9,"v":1.12,"d":40},{"s":31.2,"v":1.18,"d":48},{"s":31.4,"v":1.24,"d":62},{"s":31.8,"v":1.23,"d":31},{"s":32.1,"v":1.29,"d":48},{"s":31.7,"v":1.3,"d":70},{"s":31.4,"v":1.35,"d":62},{"s":31.9,"v":1.36,"d":48},{"s":31.7,"v":1.4,"d":31},{"s":31.9,"v":1.45,"d":48},{"s":32.1,"v":1.49,"d":70},{"s":31.8,"v":1.52,"d":85},{"s":32.5,"v":1.5,"d":112},{"s":32.1,"v":1.58,"d":100},{"s":32.2,"v":1.62,"d":100},{"s":31.9,"v":1.66,"d":62},{"s":32.1,"v":1.72,"d":70},{"s":32.3,"v":1.78,"d":112},{"s":32.3,"v":1.83,"d":85},{"s":32.5,"v":1.87,"d":112},{"s":32.2,"v":1.91,"d":112},{"s":32.6,"v":1.9,"d":112},{"s":33.0,"v":1.93,"d":140},{"s":32.9,"v":1.97,"d":125},{"s":33.3,"v":1.86,"d":140},{"s":33.2,"v":1.81,"d":155},{"s":33.3,"v":1.77,"d":140},{"s":33.4,"v":1.68,"d":155},{"s":33.0,"v":1.65,"d":112},{"s":33.5,"v":1.64,"d":195},{"s":33.3,"v":1.61,"d":145},{"s":34.2,"v":1.55,"d":200},{"s":33.2,"v":1.52,"d":155},{"s":33.7,"v":1.52,"d":155},{"s":33.0,"v":1.48,"d":112},{"s":33.5,"v":1.46,"d":155},{"s":33.9,"v":1.41,"d":230},{"s":33.9,"v":1.36,"d":195},{"s":33.4,"v":1.33,"d":168},{"s":33.8,"v":1.3,"d":145},{"s":34.4,"v":1.31,"d":195},{"s":34.0,"v":1.27,"d":155},{"s":34.3,"v":1.23,"d":168},{"s":33.6,"v":1.18,"d":195},{"s":34.0,"v":1.19,"d":230},{"s":33.9,"v":1.14,"d":200},{"s":34.1,"v":1.1,"d":230},{"s":34.4,"v":1.14,"d":195},{"s":33.9,"v":1.05,"d":125},{"s":34.4,"v":1.03,"d":230},{"s":34.0,"v":1.01,"d":200},{"s":33.8,"v":0.96,"d":200},{"s":34.2,"v":0.94,"d":200},{"s":34.6,"v":0.99,"d":275},{"s":34.7,"v":0.9,"d":275},{"s":34.7,"v":0.83,"d":275},{"s":34.7,"v":0.76,"d":275},{"s":34.7,"v":0.7,"d":275},{"s":34.7,"v":1.07,"d":275},{"s":34.2,"v":0.83,"d":248},{"s":34.2,"v":0.87,"d":230}
]
},
"resolve": {"scale": {"color": "independent"}, "legend": {"color": "independent"}},
"spacing": 109,
"vconcat": [
{"hconcat": [
 {"width": 455, "height": 455, "title": {"text": "Depth [m]"},
  "layer": [
   {"data": {"name": "hs"}, "mark": {"type": "circle", "size": 105, "opacity": 1},
    "encoding": {
     "x": {"field": "s", "type": "quantitative", "title": "Salinity", "scale": {"domain": [0, 35], "nice": false, "zero": false}, "axis": {"values": [0,5,10,15,20,25,30,35], "labelExpr": "datum.value % 10 === 0 ? datum.label : ''", "gridOpacity": {"condition": {"test": "datum.value % 10 === 0", "value": 0.85}, "value": 0}}},
     "y": {"field": "v", "type": "quantitative", "title": "Silicate", "scale": {"domain": [0, 90], "nice": false, "zero": false}, "axis": {"values": [0,10,20,30,40,50,60,70,80,90], "labelExpr": "datum.value % 20 === 0 ? datum.label : ''", "gridOpacity": {"condition": {"test": "datum.value % 20 === 0", "value": 0.85}, "value": 0}}},
     "color": {"field": "d", "type": "quantitative", "title": null, "scale": {"domain": [0,8,15,25,32,40,48,58,65,72,80,90,100,112,125,140,150,160,170,180,195,210,220,230,240,250,262,275], "range": ["#f0c0f0","#e496e0","#d850d0","#c890c8","#a0a0d0","#7070e8","#2838f0","#2870e0","#40a0f0","#70e0f0","#70e8d8","#40c890","#20b060","#10e030","#30c030","#70c050","#90d060","#c0f050","#f0e040","#f8b020","#f09010","#e06000","#d04000","#ff2010","#f01010","#d80020","#e05060","#f8b088"], "interpolate": "rgb"}, "legend": {"values": [0,50,100,150,200,250]}}
    }},
   {"data": {"values": [{}]}, "mark": {"type": "text", "font": "Lato", "fontSize": 44, "fontWeight": "bold", "color": "#000", "baseline": "middle", "align": "center"}, "encoding": {"x": {"datum": 17}, "y": {"datum": 79.6}, "text": {"value": "Hudson Bay"}}},
   {"data": {"values": [{}]}, "mark": {"type": "text", "font": "Liberation Sans", "fontSize": 10, "fontWeight": "bold", "fontStyle": "italic", "color": "#000", "angle": 270, "align": "left", "baseline": "middle", "dx": 2, "dy": 10}, "encoding": {"x": {"datum": 35}, "y": {"datum": 0}, "text": {"value": "Ocean Data View"}}}
  ]},
 {"width": 455, "height": 455, "title": {"text": "Depth [m]"},
  "layer": [
   {"data": {"name": "hn"}, "mark": {"type": "circle", "size": 105, "opacity": 1},
    "encoding": {
     "x": {"field": "s", "type": "quantitative", "title": "Salinity", "scale": {"domain": [0, 35], "nice": false, "zero": false}, "axis": {"values": [0,5,10,15,20,25,30,35], "labelExpr": "datum.value % 10 === 0 ? datum.label : ''", "gridOpacity": {"condition": {"test": "datum.value % 10 === 0", "value": 0.85}, "value": 0}}},
     "y": {"field": "v", "type": "quantitative", "title": "Nitrate", "scale": {"domain": [0, 17.5], "nice": false, "zero": false}, "axis": {"values": [0,2.5,5,7.5,10,12.5,15,17.5], "labelExpr": "datum.value % 5 === 0 ? datum.label : ''", "gridOpacity": {"condition": {"test": "datum.value % 5 === 0", "value": 0.85}, "value": 0}}},
     "color": {"field": "d", "type": "quantitative", "title": null, "scale": {"domain": [0,8,15,25,32,40,48,58,65,72,80,90,100,112,125,140,150,160,170,180,195,210,220,230,240,250,262,275], "range": ["#f0c0f0","#e496e0","#d850d0","#c890c8","#a0a0d0","#7070e8","#2838f0","#2870e0","#40a0f0","#70e0f0","#70e8d8","#40c890","#20b060","#10e030","#30c030","#70c050","#90d060","#c0f050","#f0e040","#f8b020","#f09010","#e06000","#d04000","#ff2010","#f01010","#d80020","#e05060","#f8b088"], "interpolate": "rgb"}, "legend": {"values": [0,50,100,150,200,250]}}
    }},
   {"data": {"values": [{}]}, "mark": {"type": "text", "font": "Lato", "fontSize": 44, "fontWeight": "bold", "color": "#000", "baseline": "middle", "align": "center"}, "encoding": {"x": {"datum": 17.1}, "y": {"datum": 15.5}, "text": {"value": "Hudson Bay"}}},
   {"data": {"values": [{}]}, "mark": {"type": "text", "font": "Liberation Sans", "fontSize": 10, "fontWeight": "bold", "fontStyle": "italic", "color": "#000", "angle": 270, "align": "left", "baseline": "middle", "dx": 2, "dy": 10}, "encoding": {"x": {"datum": 35}, "y": {"datum": 0}, "text": {"value": "Ocean Data View"}}}
  ]},
 {"width": 455, "height": 455, "title": {"text": "Depth [m]"},
  "layer": [
   {"data": {"name": "hp"}, "mark": {"type": "circle", "size": 105, "opacity": 1},
    "encoding": {
     "x": {"field": "s", "type": "quantitative", "title": "Salinity", "scale": {"domain": [0, 35], "nice": false, "zero": false}, "axis": {"values": [0,5,10,15,20,25,30,35], "labelExpr": "datum.value % 10 === 0 ? datum.label : ''", "gridOpacity": {"condition": {"test": "datum.value % 10 === 0", "value": 0.85}, "value": 0}}},
     "y": {"field": "v", "type": "quantitative", "title": "Phosphate", "scale": {"domain": [0, 2], "nice": false, "zero": false}, "axis": {"values": [0,0.25,0.5,0.75,1,1.25,1.5,1.75,2], "labelExpr": "datum.value % 0.5 === 0 ? datum.label : ''", "gridOpacity": {"condition": {"test": "datum.value % 0.5 === 0", "value": 0.85}, "value": 0}}},
     "color": {"field": "d", "type": "quantitative", "title": null, "scale": {"domain": [0,8,15,25,32,40,48,58,65,72,80,90,100,112,125,140,150,160,170,180,195,210,220,230,240,250,262,275], "range": ["#f0c0f0","#e496e0","#d850d0","#c890c8","#a0a0d0","#7070e8","#2838f0","#2870e0","#40a0f0","#70e0f0","#70e8d8","#40c890","#20b060","#10e030","#30c030","#70c050","#90d060","#c0f050","#f0e040","#f8b020","#f09010","#e06000","#d04000","#ff2010","#f01010","#d80020","#e05060","#f8b088"], "interpolate": "rgb"}, "legend": {"values": [0,50,100,150,200,250]}}
    }},
   {"data": {"values": [{}]}, "mark": {"type": "text", "font": "Lato", "fontSize": 44, "fontWeight": "bold", "color": "#000", "baseline": "middle", "align": "center"}, "encoding": {"x": {"datum": 16.6}, "y": {"datum": 1.775}, "text": {"value": "Hudson Bay"}}},
   {"data": {"values": [{}]}, "mark": {"type": "text", "font": "Liberation Sans", "fontSize": 10, "fontWeight": "bold", "fontStyle": "italic", "color": "#000", "angle": 270, "align": "left", "baseline": "middle", "dx": 2, "dy": 10}, "encoding": {"x": {"datum": 35}, "y": {"datum": 0}, "text": {"value": "Ocean Data View"}}}
  ]}
 ], "spacing": 24, "resolve": {"scale": {"color": "independent"}, "legend": {"color": "independent"}}},
{"hconcat": [
 {"width": 446, "height": 455, "title": {"text": "Depth [m]"},
  "layer": [
   {"data": {"name": "ms"}, "mark": {"type": "circle", "size": 105, "opacity": 1},
    "encoding": {
     "x": {"field": "s", "type": "quantitative", "title": "Salinity", "scale": {"domain": [0, 35], "nice": false, "zero": false}, "axis": {"values": [0,5,10,15,20,25,30,35], "labelExpr": "datum.value % 10 === 0 ? datum.label : ''", "gridOpacity": {"condition": {"test": "datum.value % 10 === 0", "value": 0.85}, "value": 0}}},
     "y": {"field": "v", "type": "quantitative", "title": "Silicate", "scale": {"domain": [0, 90], "nice": false, "zero": false}, "axis": {"values": [0,10,20,30,40,50,60,70,80,90], "labelExpr": "datum.value % 20 === 0 ? datum.label : ''", "gridOpacity": {"condition": {"test": "datum.value % 20 === 0", "value": 0.85}, "value": 0}}},
     "color": {"field": "d", "type": "quantitative", "title": null, "scale": {"domain": [0,8,15,25,32,40,48,58,65,72,80,90,100,112,125,140,150,160,170,180,195,210,220,230,240,250,262,275], "range": ["#f0c0f0","#e496e0","#d850d0","#c890c8","#a0a0d0","#7070e8","#2838f0","#2870e0","#40a0f0","#70e0f0","#70e8d8","#40c890","#20b060","#10e030","#30c030","#70c050","#90d060","#c0f050","#f0e040","#f8b020","#f09010","#e06000","#d04000","#ff2010","#f01010","#d80020","#e05060","#f8b088"], "interpolate": "rgb"}, "legend": {"values": [0,50,100,150,200,250]}}
    }},
   {"data": {"values": [{}]}, "mark": {"type": "text", "font": "Lato", "fontSize": 44, "fontWeight": "bold", "color": "#000", "baseline": "middle", "align": "center"}, "encoding": {"x": {"datum": 15.5}, "y": {"datum": 79.0}, "text": {"value": "Mackenzie"}}},
   {"data": {"values": [{}]}, "mark": {"type": "text", "font": "Liberation Sans", "fontSize": 10, "fontWeight": "bold", "fontStyle": "italic", "color": "#000", "angle": 270, "align": "left", "baseline": "middle", "dx": 2, "dy": 10}, "encoding": {"x": {"datum": 35}, "y": {"datum": 0}, "text": {"value": "Ocean Data View"}}}
  ]},
 {"width": 446, "height": 455, "title": {"text": "Depth [m]"},
  "layer": [
   {"data": {"name": "mn"}, "mark": {"type": "circle", "size": 105, "opacity": 1},
    "encoding": {
     "x": {"field": "s", "type": "quantitative", "title": "Salinity", "scale": {"domain": [0, 35], "nice": false, "zero": false}, "axis": {"values": [0,5,10,15,20,25,30,35], "labelExpr": "datum.value % 10 === 0 ? datum.label : ''", "gridOpacity": {"condition": {"test": "datum.value % 10 === 0", "value": 0.85}, "value": 0}}},
     "y": {"field": "v", "type": "quantitative", "title": "Nitrate", "scale": {"domain": [0, 17.5], "nice": false, "zero": false}, "axis": {"values": [0,2.5,5,7.5,10,12.5,15,17.5], "labelExpr": "datum.value % 5 === 0 ? datum.label : ''", "gridOpacity": {"condition": {"test": "datum.value % 5 === 0", "value": 0.85}, "value": 0}}},
     "color": {"field": "d", "type": "quantitative", "title": null, "scale": {"domain": [0,8,15,25,32,40,48,58,65,72,80,90,100,112,125,140,150,160,170,180,195,210,220,230,240,250,262,275], "range": ["#f0c0f0","#e496e0","#d850d0","#c890c8","#a0a0d0","#7070e8","#2838f0","#2870e0","#40a0f0","#70e0f0","#70e8d8","#40c890","#20b060","#10e030","#30c030","#70c050","#90d060","#c0f050","#f0e040","#f8b020","#f09010","#e06000","#d04000","#ff2010","#f01010","#d80020","#e05060","#f8b088"], "interpolate": "rgb"}, "legend": {"values": [0,50,100,150,200,250]}}
    }},
   {"data": {"values": [{}]}, "mark": {"type": "text", "font": "Lato", "fontSize": 44, "fontWeight": "bold", "color": "#000", "baseline": "middle", "align": "center"}, "encoding": {"x": {"datum": 15.3}, "y": {"datum": 15.37}, "text": {"value": "Mackenzie"}}},
   {"data": {"values": [{}]}, "mark": {"type": "text", "font": "Liberation Sans", "fontSize": 10, "fontWeight": "bold", "fontStyle": "italic", "color": "#000", "angle": 270, "align": "left", "baseline": "middle", "dx": 2, "dy": 10}, "encoding": {"x": {"datum": 35}, "y": {"datum": 0}, "text": {"value": "Ocean Data View"}}}
  ]},
 {"width": 446, "height": 455, "title": {"text": "Depth [m]"},
  "layer": [
   {"data": {"name": "mp"}, "mark": {"type": "circle", "size": 105, "opacity": 1},
    "encoding": {
     "x": {"field": "s", "type": "quantitative", "title": "Salinity", "scale": {"domain": [0, 35], "nice": false, "zero": false}, "axis": {"values": [0,5,10,15,20,25,30,35], "labelExpr": "datum.value % 10 === 0 ? datum.label : ''", "gridOpacity": {"condition": {"test": "datum.value % 10 === 0", "value": 0.85}, "value": 0}}},
     "y": {"field": "v", "type": "quantitative", "title": "Phosphate", "scale": {"domain": [0, 2], "nice": false, "zero": false}, "axis": {"values": [0,0.25,0.5,0.75,1,1.25,1.5,1.75,2], "labelExpr": "datum.value % 0.5 === 0 ? datum.label : ''", "gridOpacity": {"condition": {"test": "datum.value % 0.5 === 0", "value": 0.85}, "value": 0}}},
     "color": {"field": "d", "type": "quantitative", "title": null, "scale": {"domain": [0,8,15,25,32,40,48,58,65,72,80,90,100,112,125,140,150,160,170,180,195,210,220,230,240,250,262,275], "range": ["#f0c0f0","#e496e0","#d850d0","#c890c8","#a0a0d0","#7070e8","#2838f0","#2870e0","#40a0f0","#70e0f0","#70e8d8","#40c890","#20b060","#10e030","#30c030","#70c050","#90d060","#c0f050","#f0e040","#f8b020","#f09010","#e06000","#d04000","#ff2010","#f01010","#d80020","#e05060","#f8b088"], "interpolate": "rgb"}, "legend": {"values": [0,50,100,150,200,250]}}
    }},
   {"data": {"values": [{}]}, "mark": {"type": "text", "font": "Lato", "fontSize": 44, "fontWeight": "bold", "color": "#000", "baseline": "middle", "align": "center"}, "encoding": {"x": {"datum": 15.4}, "y": {"datum": 1.76}, "text": {"value": "Mackenzie"}}},
   {"data": {"values": [{}]}, "mark": {"type": "text", "font": "Liberation Sans", "fontSize": 10, "fontWeight": "bold", "fontStyle": "italic", "color": "#000", "angle": 270, "align": "left", "baseline": "middle", "dx": 2, "dy": 10}, "encoding": {"x": {"datum": 35}, "y": {"datum": 0}, "text": {"value": "Ocean Data View"}}}
  ]}
 ], "spacing": 32, "resolve": {"scale": {"color": "independent"}, "legend": {"color": "independent"}}}
]
}
